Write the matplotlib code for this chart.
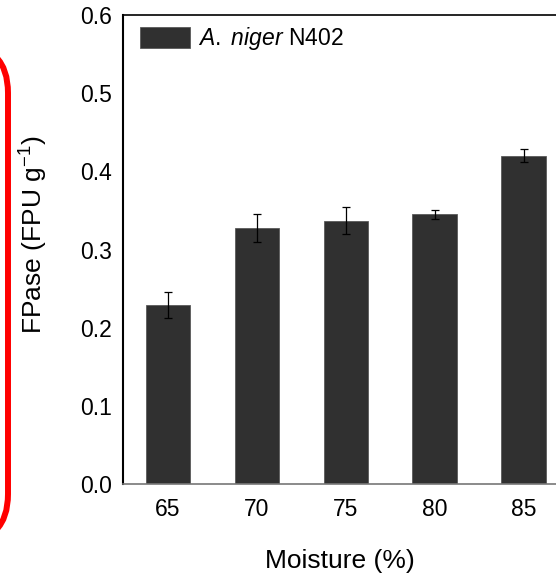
import matplotlib.pyplot as plt
from matplotlib.patches import FancyBboxPatch
from matplotlib.transforms import IdentityTransform

# data
moisture = ["65", "70", "75", "80", "85"]
fpase = [0.229, 0.327, 0.337, 0.345, 0.420]
fpase_err = [0.017, 0.018, 0.017, 0.006, 0.008]

plt.rcParams['font.family'] = ['Liberation Sans', 'DejaVu Sans']
plt.rcParams['mathtext.fontset'] = 'custom'
plt.rcParams['mathtext.rm'] = 'Liberation Sans'
plt.rcParams['mathtext.it'] = 'Liberation Sans:italic'

fs = 16.5
fs_label = 19

fig = plt.figure(figsize=(5.56, 5.74), dpi=100)
ax = fig.add_axes([123 / 556, 90 / 574, 445 / 556, 469 / 574])

x = range(len(moisture))
ax.bar(x, fpase, width=0.5, color='#303030', edgecolor='#5a5a5a', linewidth=0.6,
       label='$\\it{A.\\ niger}$ N402', zorder=2)
ax.errorbar(x, fpase, yerr=fpase_err, fmt='none', ecolor='black',
            elinewidth=0.9, capsize=3, capthick=0.9, zorder=3)

ax.set_xlim(-0.506, 4.5)
ax.set_ylim(0, 0.6)
ax.set_yticks([0.0, 0.1, 0.2, 0.3, 0.4, 0.5, 0.6])
ax.set_yticklabels(['0.0', '0.1', '0.2', '0.3', '0.4', '0.5', '0.6'])
ax.set_xticks(list(x))
ax.set_xticklabels(moisture)
ax.tick_params(axis='both', length=0, labelsize=fs)
ax.tick_params(axis='y', pad=8)
ax.tick_params(axis='x', pad=10)

ax.spines['left'].set_linewidth(1.5)
ax.spines['top'].set_linewidth(1.2)
ax.spines['bottom'].set_color('#777777')
ax.spines['bottom'].set_linewidth(1.2)

ax.set_ylabel('FPase (FPU g$^{\\mathrm{-1}}$)', fontsize=fs_label)
ax.yaxis.set_label_coords((50 - 123) / 445, (484 - 235) / 469)
ax.set_xlabel('Moisture (%)', fontsize=fs_label)
ax.xaxis.set_label_coords((340 - 123) / 445, -(549 - 484) / 469)

ax.legend(loc='upper left', bbox_to_anchor=(17 / 445, 1 - 10 / 469),
          frameon=False, fontsize=fs, handlelength=2.2, handleheight=1.05,
          handletextpad=0.35, borderpad=0, borderaxespad=0)

# red rounded frame on the left edge (cut off)
frame = FancyBboxPatch((-150, 574 - 542), 158, 497,
                       boxstyle='round,pad=0,rounding_size=48',
                       transform=IdentityTransform(), fill=False,
                       edgecolor='#ff0000', linewidth=4.3)
fig.patches.append(frame)

fig.savefig('out.png', dpi=100)
